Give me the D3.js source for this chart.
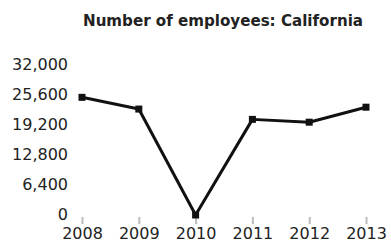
<!DOCTYPE html>
<html><head><meta charset="utf-8">
<script src="https://cdn.jsdelivr.net/npm/d3@7"></script>
<style>body{margin:0;background:#fff}svg{display:block}</style>
</head><body>
<script>
const years = ["2008","2009","2010","2011","2012","2013"];
const employees = [25100, 22600, 0, 20400, 19800, 23000];
const yTicks = [0, 6400, 12800, 19200, 25600, 32000];
const title = "Number of employees: California";

const W = 391, H = 244;
const svg = d3.select("body").append("svg").attr("width", W).attr("height", H);

const x = d3.scalePoint().domain(years).range([82, 366]);
const y = d3.scaleLinear().domain([0, 32000]).range([215, 65]);

svg.append("text").attr("x", 223).attr("y", 26).attr("text-anchor", "middle")
  .attr("font-family", "DejaVu Sans").attr("font-weight", "bold").attr("font-size", 15)
  .attr("textLength", 280).attr("lengthAdjust", "spacingAndGlyphs")
  .attr("fill", "#222").text(title);

// y axis labels
const yAxis = d3.axisLeft(y).tickValues(yTicks).tickSize(0).tickPadding(0).tickFormat(d3.format(","));
const gy = svg.append("g").attr("transform", "translate(68,-1)").call(yAxis);
gy.select(".domain").remove();
gy.selectAll("text").attr("font-family", "DejaVu Sans").attr("font-size", 16).attr("fill", "#222");

// x axis
const xAxis = d3.axisBottom(x).tickSize(7).tickPadding(4);
const gx = svg.append("g").attr("transform", "translate(0,217)").call(xAxis);
gx.select(".domain").remove();
gx.selectAll("line").attr("stroke", "#bbb").attr("stroke-width", 2);
gx.selectAll("text").attr("font-family", "DejaVu Sans").attr("font-size", 16).attr("fill", "#222");

const line = d3.line().x((d, i) => x(years[i])).y(d => y(d));
svg.append("path").datum(employees).attr("d", line)
  .attr("fill", "none").attr("stroke", "#111").attr("stroke-width", 3).attr("stroke-linejoin", "round");

svg.selectAll("rect.pt").data(employees).enter().append("rect").attr("class", "pt")
  .attr("x", (d, i) => x(years[i]) - 3.5).attr("y", d => y(d) - 3.5)
  .attr("width", 7).attr("height", 7).attr("fill", "#111");
</script>
</body></html>
